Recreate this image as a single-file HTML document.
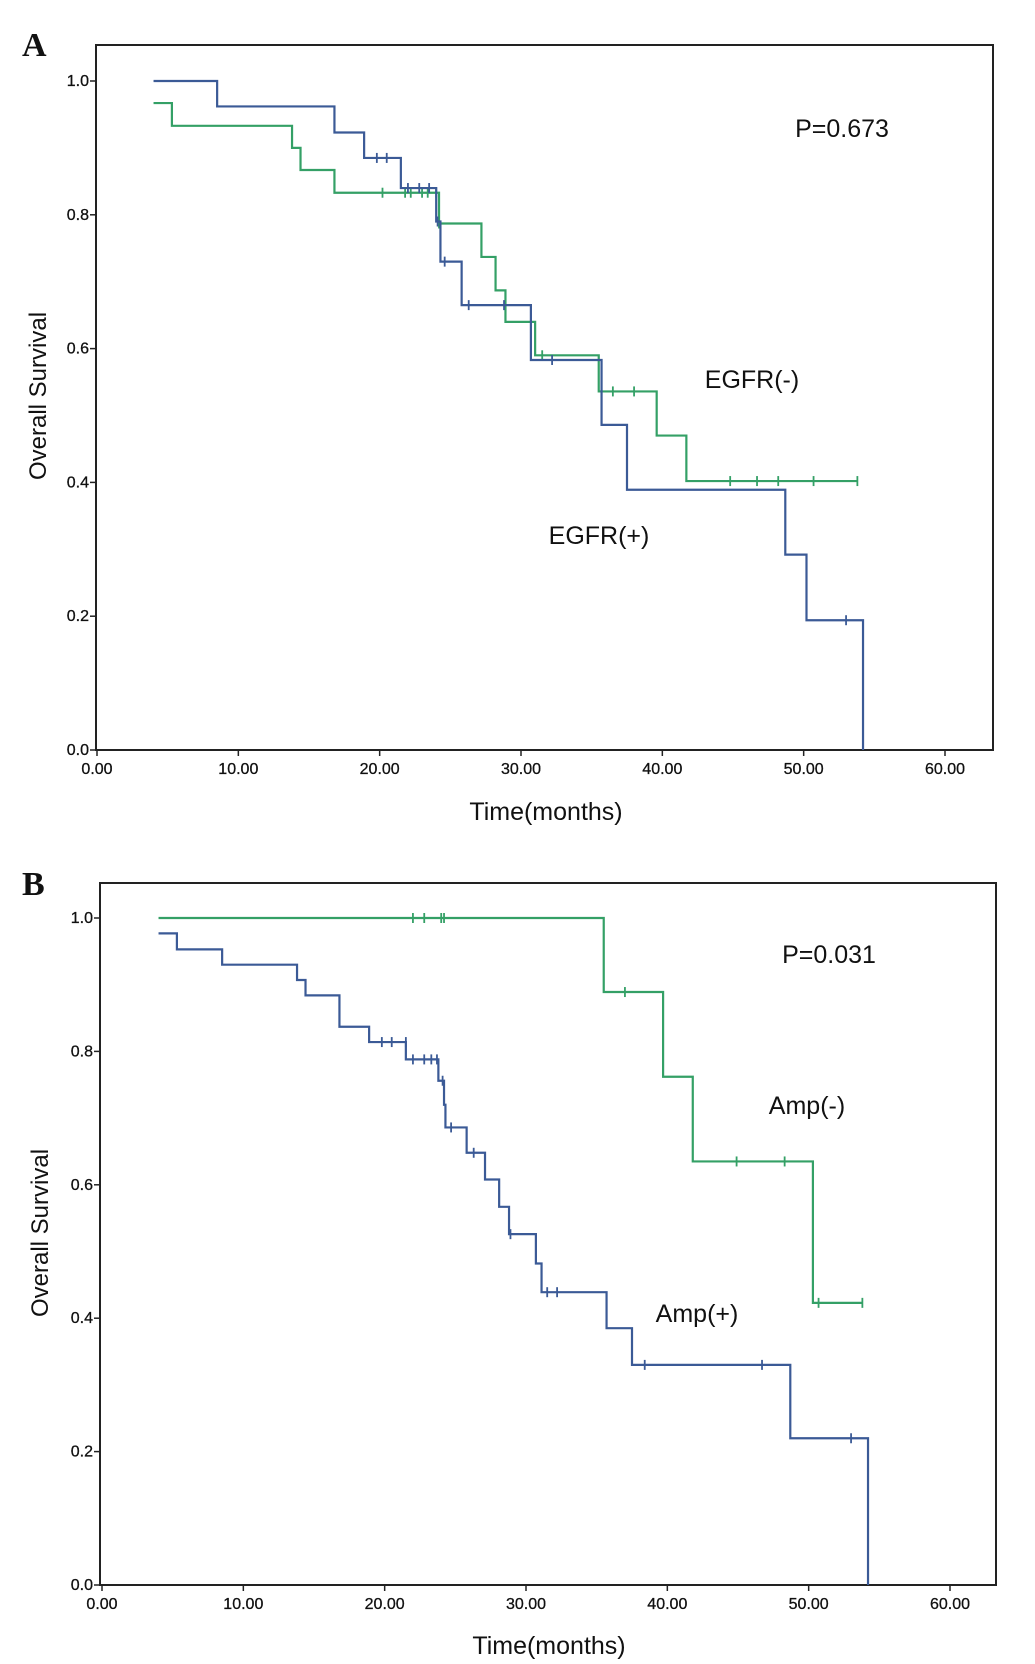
<!DOCTYPE html>
<html><head><meta charset="utf-8"><style>
html,body{margin:0;padding:0;background:#fff;}
svg{display:block;font-family:"Liberation Sans",sans-serif;}
</style></head><body>
<svg id="svg" width="1035" height="1664" viewBox="0 0 1035 1664"></svg>
<script>
const xTicks=[0,10,20,30,40,50,60];
const xTickLabels=["0.00","10.00","20.00","30.00","40.00","50.00","60.00"];
const yTicks=[0,0.2,0.4,0.6,0.8,1.0];
const yTickLabels=["0.0","0.2","0.4","0.6","0.8","1.0"];
// Panel A
const aPosTimes=[4,8.5,16.8,18.9,21.5,24,24.3,25.8,30.7,35.7,37.5,48.7,50.2,54.2];
const aPosSurv=[1.0,0.962,0.923,0.885,0.84,0.79,0.73,0.665,0.583,0.486,0.389,0.292,0.194,0];
const aPosEnd=54.2;
const aPosCensT=[19.8,20.5,22,22.8,23.5,24.1,24.6,26.3,28.8,32.2,53];
const aPosCensS=[0.885,0.885,0.84,0.84,0.84,0.79,0.73,0.665,0.665,0.583,0.194];
const aNegTimes=[4,5.3,13.8,14.4,16.8,24.2,27.2,28.2,28.9,31,35.5,39.6,41.7];
const aNegSurv=[0.967,0.933,0.9,0.867,0.833,0.787,0.737,0.687,0.64,0.59,0.536,0.47,0.402];
const aNegEnd=53.8;
const aNegCensT=[20.2,21.8,22.2,23,23.4,24,24.2,31.5,36.5,38,44.8,46.7,48.2,50.7,53.8];
const aNegCensS=[0.833,0.833,0.833,0.833,0.833,0.833,0.787,0.59,0.536,0.536,0.402,0.402,0.402,0.402,0.402];
// Panel B
const bNegTimes=[4,35.5,39.7,41.8,50.3];
const bNegSurv=[1.0,0.889,0.762,0.635,0.423];
const bNegEnd=53.8;
const bNegCensT=[22,22.8,24,24.2,37,44.9,48.3,50.7,53.8];
const bNegCensS=[1,1,1,1,0.889,0.635,0.635,0.423,0.423];
const bPosTimes=[4,5.3,8.5,13.8,14.4,16.8,18.9,21.5,23.8,24.2,24.3,25.8,27.1,28.1,28.8,30.7,31.1,35.7,37.5,48.7,54.2];
const bPosSurv=[0.977,0.953,0.93,0.907,0.884,0.837,0.814,0.788,0.756,0.72,0.686,0.648,0.608,0.567,0.526,0.482,0.439,0.385,0.330,0.22,0];
const bPosEnd=54.2;
const bPosCensT=[19.8,20.5,21.5,22,22.8,23.3,23.7,24.1,24.7,26.3,28.9,31.5,32.2,38.4,46.7,53];
const bPosCensS=[0.814,0.814,0.814,0.788,0.788,0.788,0.788,0.756,0.686,0.648,0.526,0.439,0.439,0.33,0.33,0.22];

const NS="http://www.w3.org/2000/svg";
const svg=document.getElementById('svg');
function mk(tag,attrs,parent){const e=document.createElementNS(NS,tag);for(const k in attrs)e.setAttribute(k,attrs[k]);(parent||svg).appendChild(e);return e;}
const BLUE="#3b5a96",GREEN="#34a066";

function panel(P){
  const g=mk('g',{});
  
  
  const sx=t=>P.x0+(t/60)*(P.x60-P.x0);
  const sy=v=>P.y0-v*(P.y0-P.y1);
  const fr=mk('rect',{x:P.L,y:P.T,width:P.R-P.L,height:P.B-P.T,fill:'none',stroke:'#222','stroke-width':2},g);
  
  
  xTicks.forEach((t,i)=>{
    const tk=mk('line',{x1:sx(t),x2:sx(t),y1:P.B,y2:P.B+6,stroke:'#222','stroke-width':1.5},g);
    
    
    const tx=mk('text',{x:sx(t),y:P.B+24,'font-size':16,'text-anchor':'middle',fill:'#111',stroke:'#111','stroke-width':0.3},g);
    tx.textContent=xTickLabels[i];
    
    
  });
  yTicks.forEach((v,i)=>{
    const tk=mk('line',{x1:P.L-6,x2:P.L,y1:sy(v),y2:sy(v),stroke:'#222','stroke-width':1.5},g);
    
    
    const tx=mk('text',{x:P.L-7,y:sy(v)+5,'font-size':16,'text-anchor':'end',fill:'#111',stroke:'#111','stroke-width':0.3},g);
    tx.textContent=yTickLabels[i];
    
    
  });
  P.series.forEach(s=>{
    let d=`M${sx(s.t[0])},${sy(s.s[0])}`;
    for(let i=1;i<s.t.length;i++){d+=` H${sx(s.t[i])} V${sy(s.s[i])}`;}
    if(s.end>s.t[s.t.length-1]) d+=` H${sx(s.end)}`;
    const p=mk('path',{d:d,fill:'none',stroke:s.c,'stroke-width':2.2},g);
    
    
    s.ct.forEach((t,i)=>{
      const c=mk('line',{x1:sx(t),x2:sx(t),y1:sy(s.cs[i])-5,y2:sy(s.cs[i])+5,stroke:s.c,'stroke-width':1.8},g);
      
      
    });
  });
  P.texts.forEach(t=>{
    const e=mk('text',{x:t[0],y:t[1],'font-size':t[3],'text-anchor':t[4]||'middle',fill:'#111','font-family':t[5]||'Liberation Sans','font-weight':t[6]||'normal'},g);
    if(t[7]) e.setAttribute('transform',t[7]);
    e.textContent=t[2];
    
    
  });
}
panel({name:'panel-a',L:96,R:993,T:45,B:750,x0:97,x60:945,y0:750,y1:81,
  series:[
    {name:'egfr-neg',c:GREEN,t:aNegTimes,s:aNegSurv,end:aNegEnd,ct:aNegCensT,cs:aNegCensS},
    {name:'egfr-pos',c:BLUE,t:aPosTimes,s:aPosSurv,end:aPosEnd,ct:aPosCensT,cs:aPosCensS}],
  texts:[[22,56,'A',34,'start','Liberation Serif','bold',null,'panel-label-a'],
    [842,137,'P=0.673',25,'middle',null,null,null,'p-value-a'],
    [752,388,'EGFR(-)',25,'middle',null,null,null,'label-egfr-neg'],
    [599,544,'EGFR(+)',25,'middle',null,null,null,'label-egfr-pos'],
    [546,820,'Time(months)',25,'middle',null,null,null,'x-axis-title-a'],
    [46,396,'Overall Survival',24,'middle',null,null,'rotate(-90 46 396)','y-axis-title-a']]
});
panel({name:'panel-b',L:100,R:996,T:883,B:1585,x0:102,x60:950,y0:1585,y1:918,
  series:[
    {name:'amp-neg',c:GREEN,t:bNegTimes,s:bNegSurv,end:bNegEnd,ct:bNegCensT,cs:bNegCensS},
    {name:'amp-pos',c:BLUE,t:bPosTimes,s:bPosSurv,end:bPosEnd,ct:bPosCensT,cs:bPosCensS}],
  texts:[[22,895,'B',34,'start','Liberation Serif','bold',null,'panel-label-b'],
    [829,963,'P=0.031',25,'middle',null,null,null,'p-value-b'],
    [807,1114,'Amp(-)',25,'middle',null,null,null,'label-amp-neg'],
    [697,1322,'Amp(+)',25,'middle',null,null,null,'label-amp-pos'],
    [549,1654,'Time(months)',25,'middle',null,null,null,'x-axis-title-b'],
    [48,1233,'Overall Survival',24,'middle',null,null,'rotate(-90 48 1233)','y-axis-title-b']]
});
</script>
</body></html>
